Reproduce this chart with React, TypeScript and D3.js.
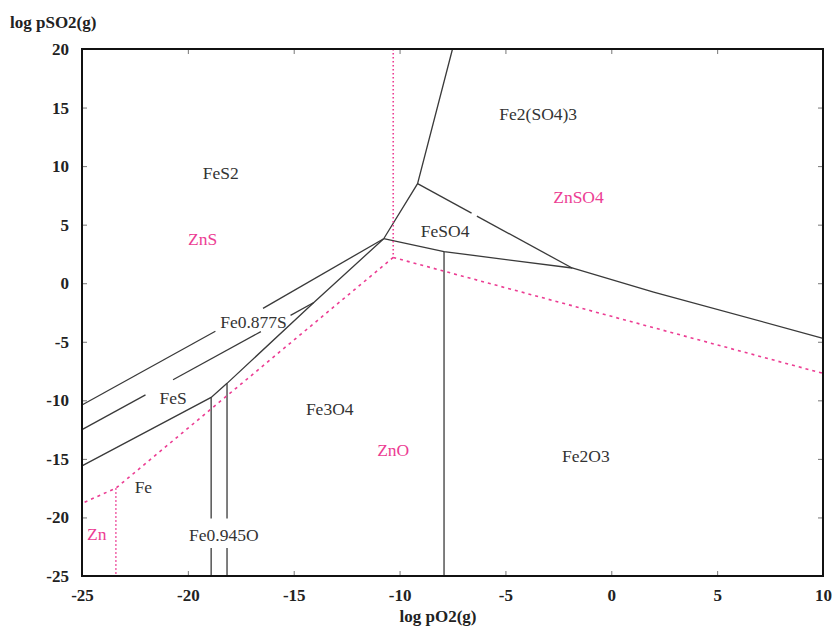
import React, { useRef, useEffect } from "react"
import * as d3 from "d3"

type Pt = [number, number]

// axis ticks
const xTicks = [-25, -20, -15, -10, -5, 0, 5, 10]
const yTicks = [-25, -20, -15, -10, -5, 0, 5, 10, 15, 20]

// Fe phase boundaries (black), split where the original leaves gaps for labels
const feLines: Pt[][] = [
    [[-25, -10.4], [-18.7, -4.1]],
    [[-16.45, -2.15], [-10.75, 3.8]],
    [[-25, -12.5], [-22.0, -9.53]],
    [[-20.7, -8.24], [-16.55, -4.13]],
    [[-15.15, -2.74], [-14.05, -1.65]],
    [[-25, -15.6], [-18.9, -9.75], [-18.15, -8.55], [-14.05, -1.65], [-10.75, 3.8]],
    [[-7.5, 20], [-9.15, 8.5], [-10.75, 3.8]],
    [[-9.15, 8.5], [-6.6, 5.98]],
    [[-6.35, 5.73], [-1.85, 1.3]],
    [[-10.75, 3.8], [-7.9, 2.7], [-1.85, 1.3], [2, -0.75], [10, -4.7]],
    [[-18.9, -9.75], [-18.9, -20.1]],
    [[-18.9, -22.6], [-18.9, -25]],
    [[-18.15, -8.55], [-18.15, -20.1]],
    [[-18.15, -22.6], [-18.15, -25]],
    [[-7.9, 2.7], [-7.9, -25]],
]

// Zn phase boundaries (pink)
const znDotted: Pt[][] = [
    [[-10.3, 20], [-10.3, 2.2]],
    [[-23.4, -17.5], [-23.4, -25]],
]
const znDashed: Pt[][] = [
    [[-10.3, 2.2], [10, -7.7]],
    [[-10.3, 2.2], [-23.4, -17.5], [-25, -18.8]],
]

// region labels: [name, x, y]
const feLabels: [string, number, number][] = [
    ["FeS2", -18.45, 9.4],
    ["Fe2(SO4)3", -3.45, 14.5],
    ["FeSO4", -7.85, 4.45],
    ["Fe0.877S", -16.9, -3.3],
    ["FeS", -20.7, -9.8],
    ["Fe3O4", -13.3, -10.75],
    ["Fe2O3", -1.2, -14.7],
    ["Fe", -22.1, -17.4],
    ["Fe0.945O", -18.3, -21.45],
]
const znLabels: [string, number, number][] = [
    ["ZnS", -19.3, 3.8],
    ["ZnSO4", -1.55, 7.35],
    ["ZnO", -10.3, -14.2],
    ["Zn", -24.3, -21.4],
]

const W = 835, H = 628
const margin = {left: 82, right: 12, top: 49, bottom: 52}
const pink = "#ec3d93"
const serif = "'Liberation Serif', 'DejaVu Serif', serif"

const App = () => {
    let element = useRef<SVGSVGElement>(null)

    useEffect(() => {
        const svg = d3.select(element.current)
        svg.selectAll("*").remove()

        const x = d3.scaleLinear().domain([-25, 10]).range([margin.left, W - margin.right])
        const y = d3.scaleLinear().domain([-25, 20]).range([H - margin.bottom, margin.top])
        const x0 = x(-25), x1 = x(10), y0 = y(-25), y1 = y(20)

        const line = d3.line<Pt>().x(d => x(d[0])).y(d => y(d[1]))

        svg.selectAll(".fe").data(feLines).enter().append("path")
            .attr("d", d => line(d))
            .attr("fill", "none").attr("stroke", "#3a3a3a").attr("stroke-width", 1.3)

        svg.selectAll(".znDot").data(znDotted).enter().append("path")
            .attr("d", d => line(d))
            .attr("fill", "none").attr("stroke", pink).attr("stroke-width", 1.6)
            .attr("stroke-dasharray", "1.5,2.5")

        svg.selectAll(".znDash").data(znDashed).enter().append("path")
            .attr("d", d => line(d))
            .attr("fill", "none").attr("stroke", pink).attr("stroke-width", 1.6)
            .attr("stroke-dasharray", "3,4")

        // axes with inward ticks
        const fmt = (d: d3.NumberValue) => String(d)
        const bottom = svg.append("g").attr("transform", `translate(0,${y0})`)
            .call(d3.axisBottom(x).tickValues(xTicks).tickSize(-5).tickPadding(13).tickFormat(fmt))
        const left = svg.append("g").attr("transform", `translate(${x0},0)`)
            .call(d3.axisLeft(y).tickValues(yTicks).tickSize(-5).tickPadding(13).tickFormat(fmt))
        svg.append("g").attr("transform", `translate(0,${y1})`)
            .call(d3.axisTop(x).tickValues(xTicks).tickSize(-5).tickFormat(() => ""))
        svg.append("g").attr("transform", `translate(${x1},0)`)
            .call(d3.axisRight(y).tickValues(yTicks).tickSize(-5).tickFormat(() => ""))

        svg.selectAll(".domain").remove()
        svg.selectAll(".tick line").attr("stroke", "#777")
        ;[bottom, left].forEach(g => g.selectAll("text")
            .attr("font-family", serif).attr("font-size", 17)
            .attr("font-weight", "bold").attr("fill", "#222"))

        svg.append("rect")
            .attr("x", x0).attr("y", y1).attr("width", x1 - x0).attr("height", y0 - y1)
            .attr("fill", "none").attr("stroke", "#111").attr("stroke-width", 2)

        svg.selectAll(".feLab").data(feLabels).enter().append("text")
            .attr("x", d => x(d[1])).attr("y", d => y(d[2]))
            .attr("dy", "0.35em").attr("text-anchor", "middle")
            .attr("font-family", serif).attr("font-size", 17.5).attr("fill", "#333")
            .text(d => d[0])

        svg.selectAll(".znLab").data(znLabels).enter().append("text")
            .attr("x", d => x(d[1])).attr("y", d => y(d[2]))
            .attr("dy", "0.35em").attr("text-anchor", "middle")
            .attr("font-family", serif).attr("font-size", 17.5).attr("fill", pink)
            .text(d => d[0])

        svg.append("text").attr("x", 10).attr("y", 28)
            .attr("font-family", serif).attr("font-size", 17).attr("font-weight", "bold")
            .attr("fill", "#222").text("log pSO2(g)")

        svg.append("text").attr("x", 438).attr("y", 622).attr("text-anchor", "middle")
            .attr("font-family", serif).attr("font-size", 17).attr("font-weight", "bold")
            .attr("fill", "#222").text("log pO2(g)")
    }, [])

    return (
        <svg ref={element} width={W} height={H}
             style={{position: "absolute", left: 0, top: 0, background: "#fff"}} />
    )
}

export default App
